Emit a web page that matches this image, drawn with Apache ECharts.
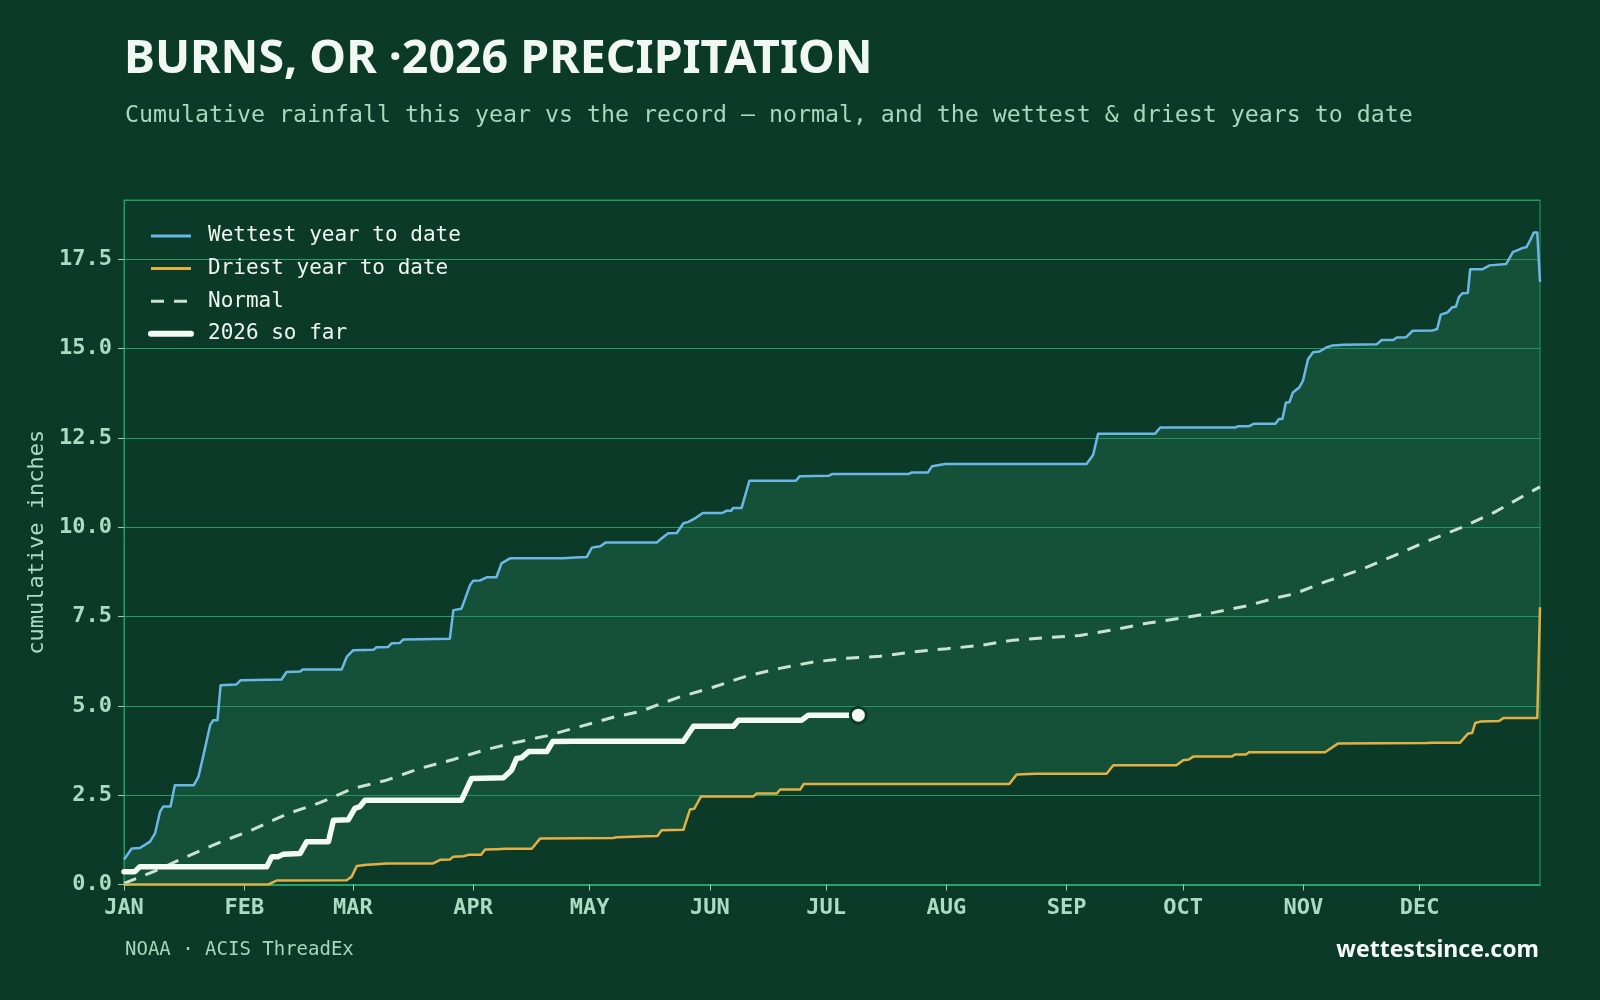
<!DOCTYPE html>
<html>
<head>
<meta charset="utf-8">
<title>Burns, OR 2026 precipitation</title>
<script src="https://cdn.jsdelivr.net/npm/echarts@6/dist/echarts.min.js"></script>
<style>
  html, body { margin: 0; padding: 0; background: #0c3a29; }
  #chart { width: 1600px; height: 1000px; }
</style>
</head>
<body>
<div id="chart"></div>
<script>
// x axis = day of year (0 = Jan 1)
const monthStarts = [0, 31, 59, 90, 120, 151, 181, 212, 243, 273, 304, 334];
const monthLabels = ['JAN', 'FEB', 'MAR', 'APR', 'MAY', 'JUN', 'JUL', 'AUG', 'SEP', 'OCT', 'NOV', 'DEC'];

// wettest year to date (inches)
const wetDays = [0, 2, 4.1, 6.7, 8, 9.3, 10.1, 12, 13.1, 18, 19.2, 20.4, 22.2, 23, 24.1, 24.9, 29, 30.1,
  40.6, 41.9, 45.4, 46.1, 56.1, 57.4, 59.1, 64.3, 65.1, 68.1, 69, 71.1, 72, 84, 84.9, 87, 89.2, 90, 91.8, 93.5, 96,
  97.3, 99.5, 113, 117.6, 119.3, 120.6, 122.8, 124.1, 137.3, 138.6, 140.3, 142.5, 144.2, 145.5, 147.5,
  149.2, 154.3, 155.2, 156.5, 157, 159.2, 161.2, 173.2, 174.2, 181.6, 182.5, 202.2, 203, 207.2, 208.3,
  211.7, 248.1, 249.8, 251.1, 265.8, 267.1, 286.4, 287.2, 290, 291.3, 296.8, 297.7, 298.6, 299.5, 300.4,
  301.3, 303, 303.9, 305.2, 306.5, 308.2, 309.9, 311.5, 314.5, 322.9, 324.2, 327.2, 328.1, 330.5, 332.2,
  337.4, 338.5, 339.4, 341.1, 342.4, 343.3, 344.1, 345, 346.4, 347, 350.1, 352, 356.3, 358, 360.6,
  361.5, 362.5, 363.4, 364.3, 365];
const wetVals = [0.70, 1.01, 1.02, 1.20, 1.43, 2.04, 2.18, 2.18, 2.78, 2.78, 3.02, 3.58, 4.46, 4.60, 4.60, 5.58, 5.60, 5.72,
  5.74, 5.95, 5.96, 6.02, 6.02, 6.37, 6.56, 6.57, 6.64, 6.65, 6.75, 6.76, 6.86, 6.88, 7.68, 7.72, 8.38, 8.50, 8.51, 8.60, 8.60,
  8.99, 9.13, 9.13, 9.16, 9.17, 9.43, 9.47, 9.57, 9.57, 9.69, 9.83, 9.84, 10.11, 10.15, 10.27,
  10.40, 10.40, 10.46, 10.46, 10.54, 10.54, 11.30, 11.30, 11.43, 11.44, 11.49, 11.49, 11.53, 11.53, 11.71,
  11.77, 11.77, 12.02, 12.62, 12.62, 12.79, 12.79, 12.83, 12.83, 12.90, 12.90, 13.03, 13.03, 13.49, 13.50,
  13.77, 13.92, 14.10, 14.70, 14.90, 14.92, 15.03, 15.09, 15.11, 15.12, 15.24, 15.24, 15.31, 15.32, 15.50,
  15.51, 15.55, 15.95, 16.01, 16.16, 16.17, 16.44, 16.55, 16.56, 17.22, 17.22, 17.33, 17.37, 17.70, 17.82,
  17.84, 18.04, 18.25, 18.25, 16.87];

// driest year to date (inches)
const dryDays = [0, 37.2, 39.3, 57.4, 58.7, 60, 62.6, 65.1, 67.7, 79.7, 81.5, 84, 84.9, 87.5, 88.8, 92,
  93.1, 96.1, 98.6, 105.1, 107.3, 126.1, 127, 134.7, 137.5, 138.6, 144.2, 145.9, 147, 148.7, 162.2, 163.1, 168.3,
  169.1, 174.3, 175.2, 228.2, 230.1, 235, 253.3, 255, 271.3, 273, 274.5, 275.6, 285.5, 286.4, 289.2, 290,
  309.6, 313, 335.8, 337.5, 344.4, 346.5, 347.5, 348.3, 349.6, 354.5, 355.6, 364.3, 365];
const dryVals = [0, 0, 0.11, 0.12, 0.22, 0.52, 0.55, 0.57, 0.59, 0.59, 0.69, 0.70, 0.78, 0.79, 0.83, 0.83,
  0.98, 0.99, 1.00, 1.00, 1.29, 1.30, 1.32, 1.35, 1.36, 1.52, 1.53, 2.10, 2.12, 2.46, 2.46, 2.55, 2.55,
  2.66, 2.66, 2.81, 2.81, 3.08, 3.10, 3.10, 3.34, 3.34, 3.48, 3.50, 3.58, 3.58, 3.64, 3.64, 3.70,
  3.70, 3.95, 3.96, 3.97, 3.97, 4.23, 4.24, 4.52, 4.56, 4.58, 4.66, 4.66, 7.76];

// normal (inches)
const normDays = [0, 7.6, 16.2, 24.7, 33.3, 41.9, 50.5, 59.1, 67.7, 76.3, 84.9, 93.5, 100.3, 108.9, 117.5,
  126.1, 133, 138.6, 143.3, 151.8, 160.4, 169, 177.7, 186.3, 194.9, 203.5, 212.1, 220.6, 229.2, 237.8,
  246.4, 255, 263.6, 272.2, 280.8, 289.4, 298, 301.5, 310.1, 318.7, 327.3, 335.9, 344.5, 353.1, 361.6, 365];
const normVals = [0.03, 0.36, 0.78, 1.18, 1.54, 1.97, 2.29, 2.69, 2.92, 3.25, 3.50, 3.78, 3.96, 4.16, 4.42,
  4.68, 4.84, 5.07, 5.25, 5.52, 5.83, 6.05, 6.23, 6.33, 6.39, 6.51, 6.60, 6.69, 6.84, 6.91,
  6.97, 7.13, 7.31, 7.45, 7.61, 7.80, 8.05, 8.13, 8.49, 8.81, 9.20, 9.61, 9.98, 10.41, 10.93, 11.13];

// 2026 so far (inches)
const curDays = [0, 2.8, 4.1, 36.8, 38.1, 39.8, 41.1, 45.4, 47.1, 52.7, 54, 57.8, 59.5, 60.8, 62.1, 87,
  89.6, 97.8, 99.9, 101.2, 102.5, 104.3, 109, 110.5, 115.9, 144.2, 146.8, 157.1, 158.4, 174.7, 176.4, 189.3];
const curVals = [0.36, 0.36, 0.50, 0.50, 0.78, 0.78, 0.85, 0.87, 1.20, 1.20, 1.80, 1.81, 2.13, 2.18, 2.36, 2.36,
  2.97, 2.99, 3.20, 3.53, 3.55, 3.72, 3.72, 4.00, 4.01, 4.01, 4.43, 4.43, 4.60, 4.60, 4.74, 4.74];

const yMax = 19.16;

const BG = '#0c3a29';
const LABEL = '#a9dcc0';
const GRID = '#209f65';
const MONO = '"DejaVu Sans Mono", monospace';
const C_WET = '#6cb7e6';
const C_DRY = '#e4b043';
const C_NORM = '#c9e3d1';
const C_CUR = '#f3f9f3';

const zip = (xs, ys) => xs.map((x, i) => [x, ys[i]]);
const wet = zip(wetDays, wetVals);
const dry = zip(dryDays, dryVals);
const norm = zip(normDays, normVals);
const cur = zip(curDays, curVals).map((p, i, arr) => i === arr.length - 1
  ? { value: p, symbol: 'circle', symbolSize: 16, itemStyle: { color: C_CUR, borderColor: BG, borderWidth: 3 } }
  : { value: p });

const chart = echarts.init(document.getElementById('chart'));
chart.setOption({
  animation: false,
  backgroundColor: BG,
  graphic: [
    { type: 'text', x: 124, y: 60, style: { text: 'BURNS, OR ·2026 PRECIPITATION', font: 'bold 46.5px "Noto Sans"', fill: '#f1f8f1', verticalAlign: 'middle' } },
    { type: 'text', x: 125, y: 116, style: { text: 'Cumulative rainfall this year vs the record — normal, and the wettest & driest years to date', font: '23.25px "DejaVu Sans Mono"', fill: '#a6d8ba', verticalAlign: 'middle' } },
    { type: 'text', x: 125, y: 950, style: { text: 'NOAA · ACIS ThreadEx', font: '19px "DejaVu Sans Mono"', fill: '#a6d8ba', verticalAlign: 'middle' } },
    { type: 'text', x: 1539, y: 950, style: { text: 'wettestsince.com', font: 'bold 23px "Noto Sans"', fill: '#f6fbf6', align: 'right', verticalAlign: 'middle' } }
  ],
  legend: {
    orient: 'vertical',
    left: 143,
    top: 220,
    itemWidth: 40,
    itemHeight: 14,
    itemGap: 10.6,
    itemStyle: { opacity: 0 },
    data: [
      { name: 'Wettest year to date', lineStyle: { width: 3 } },
      { name: 'Driest year to date', lineStyle: { width: 3 } },
      { name: 'Normal', lineStyle: { width: 3, type: [13, 10] } },
      { name: '2026 so far', lineStyle: { width: 6, cap: 'round' } }
    ],
    textStyle: { color: '#eef6ee', fontFamily: MONO, fontSize: 21, lineHeight: 22, padding: [0, 0, 0, 12] }
  },
  grid: {
    left: 124, right: 60, top: 200, bottom: 115.5,
    show: true, borderColor: GRID, borderWidth: 1, backgroundColor: 'transparent'
  },
  xAxis: {
    type: 'value',
    min: 0,
    max: 365,
    axisLine: { lineStyle: { color: '#22a36c', width: 2 } },
    axisTick: { show: true, length: 6, lineStyle: { color: '#9fcfb3' }, customValues: monthStarts },
    splitLine: { show: false },
    axisLabel: {
      customValues: monthStarts,
      margin: 13,
      color: LABEL,
      fontFamily: MONO,
      fontWeight: 'bold',
      fontSize: 22,
      formatter: (v) => monthLabels[monthStarts.indexOf(v)]
    }
  },
  yAxis: {
    type: 'value',
    min: 0,
    max: yMax,
    interval: 2.5,
    name: 'cumulative inches',
    nameLocation: 'middle',
    nameGap: 66,
    nameTextStyle: { color: LABEL, fontFamily: MONO, fontSize: 22 },
    axisLine: { show: true, lineStyle: { color: GRID } },
    axisTick: { show: true, length: 6, lineStyle: { color: '#9fcfb3' } },
    splitLine: { lineStyle: { color: GRID, width: 1 } },
    axisLabel: {
      showMaxLabel: false,
      margin: 12,
      color: LABEL,
      fontFamily: MONO,
      fontWeight: 'bold',
      fontSize: 22,
      formatter: (v) => v.toFixed(1)
    }
  },
  series: [
    {
      // band between wettest and driest
      type: 'custom',
      silent: true,
      z: 1,
      data: [0],
      renderItem: (params, api) => {
        const pts = wet.map((p) => api.coord(p)).concat(dry.slice().reverse().map((p) => api.coord(p)));
        return { type: 'polygon', shape: { points: pts }, style: { fill: 'rgba(38,130,90,0.33)' } };
      }
    },
    {
      name: 'Normal',
      type: 'line',
      data: norm,
      symbol: 'none',
      z: 3,
      lineStyle: { color: C_NORM, width: 3, type: [13, 10] },
      itemStyle: { color: C_NORM }
    },
    {
      name: 'Driest year to date',
      type: 'line',
      data: dry,
      symbol: 'none',
      z: 3,
      lineStyle: { color: C_DRY, width: 2.5, join: 'round' },
      itemStyle: { color: C_DRY }
    },
    {
      name: 'Wettest year to date',
      type: 'line',
      data: wet,
      symbol: 'none',
      z: 3,
      lineStyle: { color: C_WET, width: 2.5, join: 'round' },
      itemStyle: { color: C_WET }
    },
    {
      name: '2026 so far',
      type: 'line',
      data: cur,
      symbol: 'none',
      showSymbol: true,
      showAllSymbol: true,
      z: 4,
      lineStyle: { color: C_CUR, width: 5.5, join: 'round', cap: 'round' },
      itemStyle: { color: C_CUR }
    }
  ]
});
</script>
</body>
</html>
